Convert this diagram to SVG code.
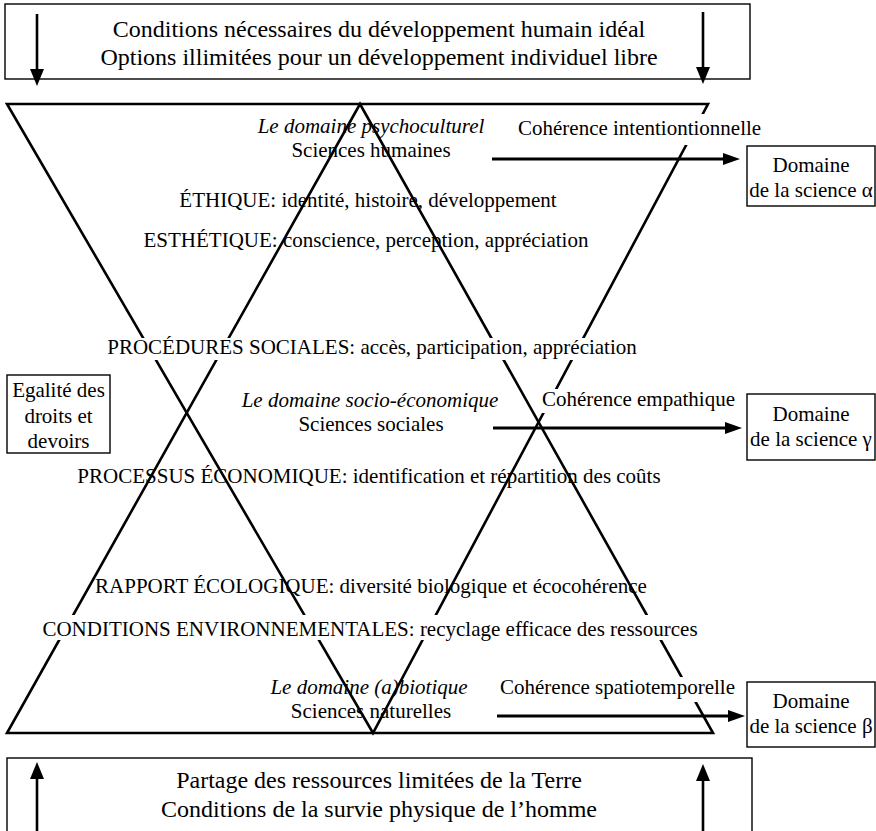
<svg xmlns="http://www.w3.org/2000/svg" width="876" height="831" viewBox="0 0 876 831">
<defs>
<style>
.box{fill:#fff;stroke:#000;stroke-width:1.4}
.tri{fill:none;stroke:#000;stroke-width:2.6;stroke-linejoin:miter}
.arr{stroke:#000;stroke-width:3;fill:none}
.varr{stroke:#000;stroke-width:2.6;fill:none}
.bg{fill:#fff;stroke:none}
.t21{font-size:21px;fill:#000}
.t24{font-size:24px;fill:#000}
.it{font-style:italic}
.c{text-anchor:middle}
</style>
<marker id="ah" markerUnits="userSpaceOnUse" markerWidth="17" markerHeight="12" refX="3" refY="6" orient="auto">
<path d="M0,0 L17,6 L0,12 z" fill="#000"/>
</marker>
<marker id="vh" markerUnits="userSpaceOnUse" markerWidth="17" markerHeight="14" refX="3" refY="7" orient="auto">
<path d="M0,0 L17,7 L0,14 z" fill="#000"/>
</marker>
</defs>
<rect width="876" height="831" fill="#fff"/>

<g font-family="Liberation Serif, serif">
<g id="top-box">
<rect class="box" x="5" y="4" width="745" height="75"/>
<text class="t24 c" x="379" y="37">Conditions nécessaires du développement humain idéal</text>
<text class="t24 c" x="379" y="65">Options illimitées pour un développement individuel libre</text>
</g>

<g id="bottom-box">
<rect class="box" x="7" y="758" width="745" height="90"/>
<text class="t24 c" x="379" y="788">Partage des ressources limitées de la Terre</text>
<text class="t24 c" x="379" y="817">Conditions de la survie physique de l’homme</text>
</g>

<g id="hourglass">
<polygon class="tri" points="7,104 708,104 373,733"/>
<polygon class="tri" points="360,104 713,733 7,733"/>
</g>

<g id="left-box">
<rect class="box" x="7" y="375" width="103" height="78"/>
<text class="t21 c" x="58.5" y="397">Egalité des</text>
<text class="t21 c" x="58.5" y="423">droits et</text>
<text class="t21 c" x="58.5" y="448">devoirs</text>
</g>

<g id="domain-psychoculturel">
<text class="t21 it c" x="371" y="133">Le domaine psychoculturel</text>
<text class="t21 c" x="371" y="157">Sciences humaines</text>
</g>
<g id="coherence-intentionnelle">
<rect class="bg" x="515" y="114" width="250" height="31"/>
<text class="t21" x="518" y="135">Cohérence intentiontionnelle</text>
</g>
<g id="ethique"><text class="t21 c" x="368" y="207">ÉTHIQUE: identité, histoire, développement</text></g>
<g id="esthetique"><text class="t21 c" x="366" y="247">ESTHÉTIQUE: conscience, perception, appréciation</text></g>
<g id="procedures">
<rect class="bg" x="104" y="338" width="536" height="22"/>
<text class="t21 c" x="372" y="354">PROCÉDURES SOCIALES: accès, participation, appréciation</text>
</g>

<g id="domain-socio">
<text class="t21 it c" x="370" y="407">Le domaine socio-économique</text>
<text class="t21 c" x="371" y="431">Sciences sociales</text>
</g>
<g id="coherence-empathique">
<rect class="bg" x="540" y="389" width="198" height="24"/>
<text class="t21" x="542" y="406">Cohérence empathique</text>
</g>
<g id="processus"><text class="t21 c" x="369" y="483">PROCESSUS ÉCONOMIQUE: identification et répartition des coûts</text></g>

<g id="rapport"><text class="t21 c" x="371" y="593">RAPPORT ÉCOLOGIQUE: diversité biologique et écocohérence</text></g>
<g id="conditions-env">
<rect class="bg" x="36" y="615" width="670" height="25"/>
<text class="t21 c" x="370" y="636">CONDITIONS ENVIRONNEMENTALES: recyclage efficace des ressources</text>
</g>

<g id="domain-abiotique">
<text class="t21 it c" x="369" y="694">Le domaine (a)biotique</text>
<text class="t21 c" x="371" y="718">Sciences naturelles</text>
</g>
<g id="coherence-spatio">
<rect class="bg" x="498" y="677" width="243" height="25"/>
<text class="t21" x="500" y="694">Cohérence spatiotemporelle</text>
</g>

<g id="domaine-alpha">
<rect class="box" x="747" y="146" width="128" height="60"/>
<text class="t21 c" x="811" y="172">Domaine</text>
<text class="t21 c" x="811" y="197">de la science α</text>
</g>
<g id="domaine-gamma">
<rect class="box" x="747" y="394" width="128" height="66"/>
<text class="t21 c" x="811" y="421">Domaine</text>
<text class="t21 c" x="811" y="446">de la science γ</text>
</g>
<g id="domaine-beta">
<rect class="box" x="747" y="682" width="128" height="65"/>
<text class="t21 c" x="811" y="708">Domaine</text>
<text class="t21 c" x="811" y="733">de la science β</text>
</g>
</g>

<g id="connectors">
<line class="arr" x1="492" y1="159" x2="726" y2="159" marker-end="url(#ah)"/>
<line class="arr" x1="493" y1="428" x2="728" y2="428" marker-end="url(#ah)"/>
<line class="arr" x1="497" y1="716" x2="731" y2="716" marker-end="url(#ah)"/>
<line class="varr" x1="37" y1="14" x2="37" y2="72" marker-end="url(#vh)"/>
<line class="varr" x1="703" y1="12" x2="703" y2="70" marker-end="url(#vh)"/>
<line class="varr" x1="37" y1="831" x2="37" y2="776" marker-end="url(#vh)"/>
<line class="varr" x1="703" y1="831" x2="703" y2="778" marker-end="url(#vh)"/>
</g>
</svg>
